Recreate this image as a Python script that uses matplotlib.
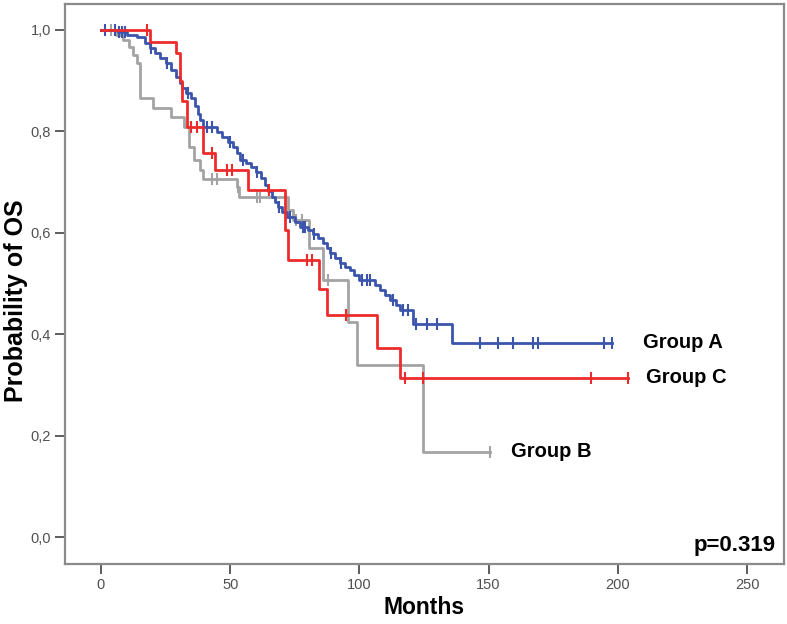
import numpy as np
import matplotlib
matplotlib.use("Agg")
import matplotlib.pyplot as plt

# Kaplan-Meier steps: (month, survival after the step)
a_times = [0, 6.5, 10, 14, 17, 19, 21, 23, 25, 27, 29, 30.5, 31.5, 33, 35, 36.5,
           37.5, 38.5, 39.5, 45, 47, 49, 51, 52.5, 53.8, 56, 58, 60, 62, 63.3,
           64.5, 66, 67.5, 68.5, 70, 72, 75, 77, 80, 82, 84, 86, 87.5, 88.7,
           90.5, 92.5, 94.5, 96.4, 98, 100, 106, 108, 110, 112, 114, 115.8,
           120.8, 136]
a_surv = [1.0, 0.995, 0.99, 0.985, 0.975, 0.965, 0.955, 0.945, 0.935, 0.92, 0.907,
          0.895, 0.885, 0.875, 0.865, 0.85, 0.835, 0.822, 0.809, 0.799, 0.789,
          0.779, 0.769, 0.757, 0.744, 0.737, 0.73, 0.72, 0.708, 0.695, 0.683,
          0.671, 0.661, 0.651, 0.641, 0.632, 0.622, 0.612, 0.605, 0.598, 0.59,
          0.58, 0.57, 0.56, 0.55, 0.54, 0.533, 0.527, 0.517, 0.507, 0.497,
          0.488, 0.478, 0.468, 0.458, 0.448, 0.42, 0.383]
a_end = 197.8
a_cens = [1.5, 5.5, 7, 8, 9.5, 19.5, 25.5, 33.5, 41, 43, 50, 55, 60.5, 69, 73,
          78, 79, 82.5, 89, 93, 101, 103, 104, 113, 117, 119, 122, 126, 130,
          146.7, 153.7, 159.5, 167.3, 169.2, 194.7, 197.8]

b_times = [0, 6, 8.5, 11, 12.5, 14, 15, 20, 27, 32, 34, 36, 38.5, 39.5, 52.5,
           53.5, 72.5, 74.5, 80.5, 85.8, 95.6, 99, 124.7]
b_surv = [1.0, 0.99, 0.98, 0.967, 0.95, 0.935, 0.866, 0.846, 0.828, 0.809, 0.77,
          0.744, 0.724, 0.705, 0.69, 0.671, 0.645, 0.626, 0.57, 0.507, 0.424,
          0.34, 0.168]
b_end = 150.6
b_cens = [4, 43, 45, 53, 60.4, 61.6, 75.5, 77.8, 87.9, 150.6]

c_times = [0, 19, 29, 30.5, 31.5, 33.3, 39.5, 44.1, 56.9, 71.2, 72.5, 84.4,
           87.5, 107, 115.8]
c_surv = [1.0, 0.977, 0.954, 0.90, 0.86, 0.809, 0.757, 0.724, 0.685, 0.605,
          0.547, 0.49, 0.438, 0.372, 0.314]
c_end = 204
c_cens = [18, 35, 37, 43, 48.8, 50.7, 65, 79.7, 81.7, 95, 117.7, 124.7, 189.7, 204]

x_ticks = [0, 50, 100, 150, 200, 250]
y_ticks = [0.0, 0.2, 0.4, 0.6, 0.8, 1.0]
y_labels = ["0,0", "0,2", "0,4", "0,6", "0,8", "1,0"]

BLUE = "#3b55ad"
RED = "#ee2b2b"
GRAY = "#a3a3a3"
SPINE = "#8a8a8a"

narrow = ["Liberation Sans Narrow", "Liberation Sans", "DejaVu Sans"]
bold = ["Liberation Sans", "DejaVu Sans"]

fig = plt.figure(figsize=(7.87, 6.24), dpi=100)
ax = fig.add_axes([0.0826, 0.0962, 0.9136, 0.8974])


def km(times, surv, end, cens, color, z):
    t = list(times) + [end]
    s = list(surv) + [surv[-1]]
    ax.step(t, s, where="post", color=color, lw=2.0, zorder=z)
    idx = np.searchsorted(np.array(times), np.array(cens), side="right") - 1
    ax.plot(cens, np.array(surv)[idx], ls="none", marker="|", ms=8, mew=1.5,
            color=color, zorder=z)


km(b_times, b_surv, b_end, b_cens, GRAY, 2)
km(a_times, a_surv, a_end, a_cens, BLUE, 3)
km(c_times, c_surv, c_end, c_cens, RED, 4)

ax.set_xlim(-13.9, 264.3)
ax.set_ylim(-0.053, 1.051)
ax.set_xticks(x_ticks)
ax.set_xticklabels([str(v) for v in x_ticks])
ax.set_yticks(y_ticks)
ax.set_yticklabels(y_labels)
for lab in ax.get_xticklabels() + ax.get_yticklabels():
    lab.set_family(narrow)
    lab.set_fontsize(10.5)
    lab.set_color("#505050")
ax.tick_params(axis="both", direction="out", length=7, width=1.3, color="#505050", pad=3)
for sp in ax.spines.values():
    sp.set_color(SPINE)
    sp.set_linewidth(1.6)

ax.set_xlabel("Months", family=bold, fontsize=16.5, fontweight="bold", labelpad=3)
ax.set_ylabel("Probability of OS", family=bold, fontsize=18, fontweight="bold")
ax.yaxis.set_label_coords(-0.052, 0.47)

ax.text(a_end + 12, a_surv[-1], "Group A", family=bold, fontsize=14.5,
        fontweight="bold", va="center", ha="left")
ax.text(c_end + 7, c_surv[-1], "Group C", family=bold, fontsize=14.5,
        fontweight="bold", va="center", ha="left")
ax.text(b_end + 8, b_surv[-1], "Group B", family=bold, fontsize=14.5,
        fontweight="bold", va="center", ha="left")
ax.text(0.988, 0.015, "p=0.319", transform=ax.transAxes, family=narrow,
        fontsize=16, fontweight="bold", ha="right", va="bottom")

fig.savefig("out.png", dpi=100)
